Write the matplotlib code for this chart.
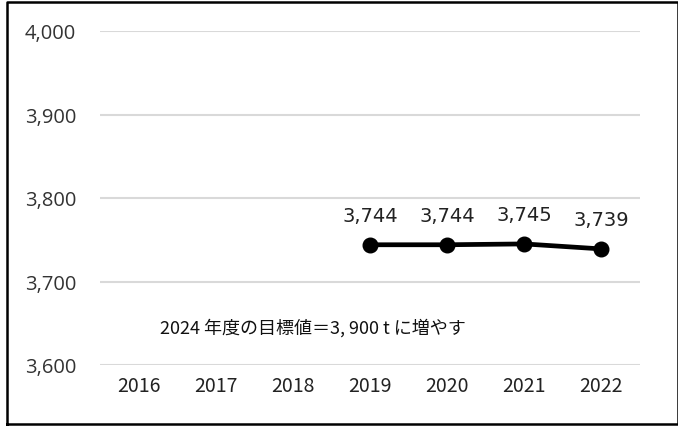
import matplotlib.pyplot as plt
from matplotlib.lines import Line2D

# data
years = ["2016", "2017", "2018", "2019", "2020", "2021", "2022"]
line_years = ["2019", "2020", "2021", "2022"]
values = [3744, 3744, 3745, 3739]
y_ticks = [3600, 3700, 3800, 3900, 4000]
note = "2024 年度の目標値＝3, 900 t に増やす"

fig = plt.figure(figsize=(6.78, 4.27), dpi=100)
ax = fig.add_axes([100 / 678, 61 / 427, 540 / 678, 334 / 427])

xpos = [years.index(y) for y in line_years]
ax.plot(xpos, values, color="black", lw=3.4, marker="o", ms=10.5, zorder=3)
for x, v in zip(xpos, values):
    ax.annotate(f"{v:,}", (x, v), xytext=(0, 14), textcoords="offset points",
                ha="center", va="bottom", fontsize=14, color="#222222",
                family="DejaVu Sans")

ax.set_xlim(-0.5, len(years) - 0.5)
ax.set_ylim(3600, 4000)
ax.set_yticks(y_ticks)
ax.set_yticklabels([f"{t:,}" for t in y_ticks], fontsize=14.5,
                   family="Open Sans", color="#333333", ha="left")
ax.tick_params(axis="y", length=0, pad=54)
ax.set_xticks(range(len(years)))
ax.set_xticklabels(years, fontsize=14, family="Noto Sans CJK JP", color="#222222")
ax.tick_params(axis="x", length=0, pad=7)
ax.grid(axis="y", color="#d9d9d9", lw=1.5)
ax.set_axisbelow(True)
for s in ax.spines.values():
    s.set_visible(False)

ax.text(0.28, 3645, note, fontsize=13, family=["Noto Sans CJK JP", "DejaVu Sans"],
        ha="left", va="center", color="#111111")

# outer frame
fx = [7 / 678, 7 / 678, 1.0, 1.0, 7 / 678]
fy = [2 / 427, 1 - 3 / 427, 1 - 3 / 427, 2 / 427, 2 / 427]
fig.add_artist(Line2D(fx, fy, color="black", lw=1.8, transform=fig.transFigure))

fig.savefig("out.png", dpi=100)
